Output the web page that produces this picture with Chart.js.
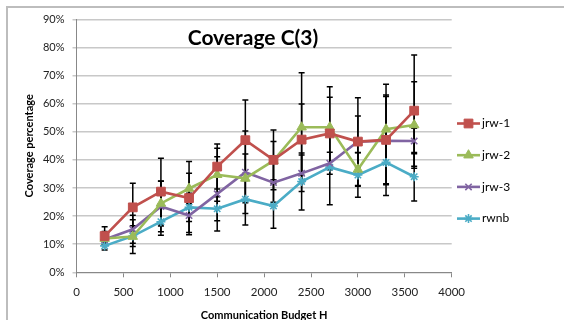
<!DOCTYPE html>
<html><head><meta charset="utf-8">
<script src="https://cdn.jsdelivr.net/npm/chart.js@4"></script>
<style>
html,body{margin:0;padding:0;background:#fff;}
#wrap{position:relative;width:564px;height:320px;overflow:hidden;background:#fff;}
#frame{position:absolute;left:6px;top:6px;width:700px;height:500px;border-left:2px solid #bdbdbd;border-top:2px solid #bdbdbd;}
#c{position:absolute;left:0;top:0;}
#title{position:absolute;left:153px;width:200px;top:23px;text-align:center;font:bold 21px Lato, "Open Sans", sans-serif;color:#000;line-height:28px;}
</style></head>
<body>
<div id="wrap">
<div id="frame"></div>
<canvas id="c" width="564" height="320"></canvas>
<div id="title">Coverage C(3)</div>
</div>
<script>
const budgets = [300,600,900,1200,1500,1800,2100,2400,2700,3000,3300,3600];
const seriesNames = ['jrw-1','jrw-2','jrw-3','rwnb'];
const jrw1 = [12.9,23.1,28.7,26.4,37.6,47.0,40.0,47.2,49.4,46.5,47.1,57.5];
const jrw2 = [12.0,12.7,24.5,29.8,34.7,33.4,39.7,51.6,51.6,36.6,50.9,52.4];
const jrw3 = [11.7,15.3,23.4,20.2,27.9,35.6,31.9,35.2,38.8,46.5,46.8,46.7];
const rwnb = [9.4,12.9,18.0,23.1,22.6,26.0,23.6,32.3,37.4,34.6,39.1,34.0];
const err1 = [3.3,8.6,11.9,13.0,8.0,14.3,10.6,12.7,12.9,15.6,19.8,19.8];
const err2 = [2.5,6.0,8.0,5.4,9.4,8.7,6.8,19.4,14.4,6.0,12.2,15.4];
const err3 = [2.0,5.0,9.0,6.0,13.2,14.7,7.0,6.5,3.9,9.1,15.7,4.5];
const err4 = [1.5,3.7,4.8,5.0,4.3,9.2,7.9,10.1,13.4,7.9,7.6,8.6];
const xTicks = [0,500,1000,1500,2000,2500,3000,3500,4000];
const yTicks = [0,10,20,30,40,50,60,70,80,90];

const colors = ['#C0504D','#9BBB59','#8064A2','#4BACC6'];
const styles = ['rect','triangle','crossRot','star'];
const radii = [6.2,5.5,4.5,4.5];
const values = [jrw1,jrw2,jrw3,rwnb];
const errs = [err1,err2,err3,err4];

const datasets = values.map((v,i)=>({
  label: seriesNames[i],
  data: budgets.map((b,j)=>({x:b,y:v[j]})),
  borderColor: colors[i],
  backgroundColor: colors[i],
  pointBackgroundColor: colors[i],
  pointBorderColor: colors[i],
  pointStyle: styles[i],
  pointRadius: radii[i],
  pointBorderWidth: (i>=2)?1.6:1,
  borderWidth: 2.6,
  showLine: true,
  tension: 0,
  errors: errs[i]
}));

const errorBars = {
  id:'errorBars',
  beforeDatasetsDraw(chart){
    const {ctx, scales:{x,y}} = chart;
    ctx.save();
    ctx.strokeStyle = '#000';
    ctx.lineWidth = 1.5;
    chart.data.datasets.forEach(ds=>{
      ds.data.forEach((p,j)=>{
        const e = ds.errors[j];
        const px = x.getPixelForValue(p.x);
        const top = y.getPixelForValue(p.y+e);
        const bot = y.getPixelForValue(p.y-e);
        ctx.beginPath();
        ctx.moveTo(px,top); ctx.lineTo(px,bot);
        ctx.moveTo(px-3,top); ctx.lineTo(px+3,top);
        ctx.moveTo(px-3,bot); ctx.lineTo(px+3,bot);
        ctx.stroke();
      });
    });
    ctx.restore();
  }
};

const customLegend = {
  id:'customLegend',
  afterDraw(chart){
    const ctx = chart.ctx;
    ctx.save();
    chart.data.datasets.forEach((ds,i)=>{
      const yy = 123.5 + i*31.7;
      ctx.strokeStyle = ds.borderColor;
      ctx.lineWidth = 2.6;
      ctx.beginPath(); ctx.moveTo(457,yy); ctx.lineTo(480,yy); ctx.stroke();
      ctx.fillStyle = ds.backgroundColor;
      ctx.lineWidth = ds.pointBorderWidth;
      Chart.helpers.drawPoint(ctx,{pointStyle:ds.pointStyle,radius:ds.pointRadius,rotation:0,borderWidth:ds.pointBorderWidth},468.5,yy);
      ctx.fillStyle = '#000';
      ctx.font = '12px Lato, "Open Sans", sans-serif';
      ctx.textBaseline = 'middle';
      ctx.textAlign = 'left';
      ctx.fillText(ds.label,482,yy);
    });
    ctx.restore();
  }
};

new Chart(document.getElementById('c'),{
  type:'scatter',
  data:{datasets},
  options:{
    responsive:false,
    animation:false,
    layout:{padding:{left:23,top:19.3,right:112.3,bottom:0}},
    plugins:{legend:{display:false},title:{display:false},tooltip:{enabled:false}},
    scales:{
      x:{
        type:'linear',min:0,max:4000,
        afterBuildTicks(s){ s.ticks = xTicks.map(v=>({value:v})); },
        afterFit(s){ s.height = 47.7; },
        grid:{drawOnChartArea:false,drawTicks:true,tickLength:5,color:'#888'},
        border:{color:'#888',width:1},
        ticks:{padding:8,color:'#222',font:{family:'Lato',size:11.5},maxRotation:0,autoSkip:false,callback:v=>String(v)},
        title:{display:true,text:'Communication Budget H',color:'#000',font:{family:'Lato',size:11,weight:'bold'},padding:{top:0,bottom:-2}}
      },
      y:{
        type:'linear',min:0,max:90,
        afterBuildTicks(s){ s.ticks = yTicks.map(v=>({value:v})); },
        afterFit(s){ s.width = 53.5; },
        grid:{drawOnChartArea:true,drawTicks:true,tickLength:4,color:'#c8c8c8',lineWidth:1.5},
        border:{color:'#888',width:1},
        ticks:{padding:8,color:'#222',font:{family:'Lato',size:11},callback:v=>v+'%'},
        title:{display:true,text:'Coverage percentage',color:'#000',font:{family:'Lato',size:11,weight:'bold'},padding:{top:0,bottom:0}}
      }
    }
  },
  plugins:[errorBars,customLegend]
});
</script>
</body></html>
